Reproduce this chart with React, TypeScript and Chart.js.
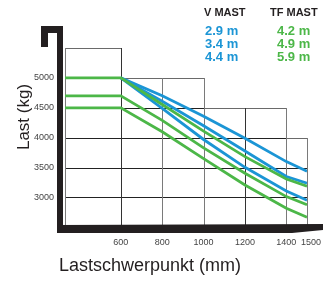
import React, { useEffect, useRef } from 'react';
import { Chart, registerables } from 'chart.js';

Chart.register(...registerables);

// ---- data ----
const loadCentres = [330, 600, 800, 1000, 1200, 1400, 1500];
const vMast29 = [null, 5000, 4700, 4360, 3990, 3600, 3440];
const vMast34 = [null, 5000, 4610, 4200, 3778, 3350, 3240];
const vMast44 = [null, 5000, 4490, 3970, 3505, 3110, 2955];
const tfMast42 = [5000, 5000, 4555, 4110, 3683, 3310, 3190];
const tfMast49 = [4700, 4700, 4290, 3830, 3405, 3015, 2880];
const tfMast59 = [4500, 4500, 4100, 3650, 3210, 2820, 2670];
const xTicks = [600, 800, 1000, 1200, 1400, 1500];
const yTicks = [3000, 3500, 4000, 4500, 5000];
const vMastLabels = ['2.9 m', '3.4 m', '4.4 m'];
const tfMastLabels = ['4.2 m', '4.9 m', '5.9 m'];
const stepEdges = [330, 600, 1000, 1400, 1500];
const stepTops = [5500, 5000, 4500, 4000];
const X_MIN = 330;
const X_MAX = 1500;
const Y_MIN = 2540;
const Y_MAX = 5500;

const BLUE = '#1b95d5';
const GREEN = '#4cb748';
const FONT = "'Liberation Sans', Arial, sans-serif";

const toPts = (vals: (number | null)[]) =>
  vals
    .map((v, i) => (v === null ? null : { x: loadCentres[i], y: v }))
    .filter((p) => p !== null);

const stepGrid = {
  id: 'stepGrid',
  beforeDatasetsDraw(chart: any) {
    const { ctx, scales } = chart;
    const xs = scales.x;
    const ys = scales.y;
    const px = (v: number) => Math.round(xs.getPixelForValue(v)) + 0.5;
    const py = (v: number) => Math.round(ys.getPixelForValue(v)) + 0.5;
    ctx.save();
    ctx.lineWidth = 1;
    const hVals = Array.from(new Set([...yTicks, ...stepTops]));
    hVals.forEach((h) => {
      for (let i = 0; i < stepTops.length; i++) {
        if (stepTops[i] < h) continue;
        ctx.strokeStyle = stepTops[i] === h ? '#6a6a6a' : '#222';
        ctx.beginPath();
        ctx.moveTo(px(stepEdges[i]) - 0.5, py(h));
        ctx.lineTo(px(stepEdges[i + 1]) + 0.5, py(h));
        ctx.stroke();
      }
    });
    const vVals = [X_MIN, ...xTicks];
    vVals.forEach((v) => {
      let top = -Infinity;
      for (let i = 0; i < stepTops.length; i++) {
        if (stepEdges[i] <= v && v <= stepEdges[i + 1]) top = Math.max(top, stepTops[i]);
      }
      ctx.strokeStyle = v === 600 || v === 1200 ? '#333' : '#7a7a7a';
      ctx.beginPath();
      ctx.moveTo(px(v), py(top) - 0.5);
      ctx.lineTo(px(v), ys.getPixelForValue(Y_MIN));
      ctx.stroke();
    });
    ctx.restore();
  },
};

const decor = {
  id: 'decor',
  afterDraw(chart: any) {
    const { ctx, chartArea, scales } = chart;
    const L = chartArea.left;
    const B = chartArea.bottom;
    ctx.save();
    ctx.fillStyle = '#231f20';
    // vertical bar with hook
    ctx.fillRect(L - 8, 26, 6, B + 8 - 26);
    ctx.fillRect(L - 24, 26, 22, 7);
    ctx.fillRect(L - 24, 26, 7, 21);
    // bottom bar with tapered end
    ctx.beginPath();
    ctx.moveTo(L - 8, B);
    ctx.lineTo(323, B - 1);
    ctx.lineTo(323, B + 5);
    ctx.lineTo(292, B + 8);
    ctx.lineTo(L - 8, B + 8);
    ctx.closePath();
    ctx.fill();

    // x tick labels (last one nudged right, as in the original)
    ctx.font = `9px ${FONT}`;
    ctx.fillStyle = '#444';
    ctx.textAlign = 'center';
    ctx.textBaseline = 'middle';
    xTicks.forEach((v, i) => {
      const x = scales.x.getPixelForValue(v) + (i === xTicks.length - 1 ? 4 : 0);
      ctx.fillText(String(v), x, B + 18);
    });

    // axis titles
    ctx.fillStyle = '#231f20';
    ctx.font = `18px ${FONT}`;
    ctx.fillText('Lastschwerpunkt (mm)', 150, 266);
    ctx.save();
    ctx.translate(24, 117);
    ctx.rotate(-Math.PI / 2);
    ctx.font = `17px ${FONT}`;
    ctx.fillText('Last (kg)', 0, 0);
    ctx.restore();

    // legend block
    ctx.font = `bold 11px ${FONT}`;
    ctx.fillStyle = '#231f20';
    ctx.textAlign = 'left';
    ctx.fillText('V MAST', 204, 13);
    ctx.fillText('TF MAST', 270, 13);
    ctx.font = `bold 13px ${FONT}`;
    vMastLabels.forEach((t, i) => {
      ctx.fillStyle = BLUE;
      ctx.fillText(t, 205, 31 + i * 13);
    });
    tfMastLabels.forEach((t, i) => {
      ctx.fillStyle = GREEN;
      ctx.fillText(t, 277, 31 + i * 13);
    });
    ctx.restore();
  },
};

export default function App() {
  const canvasRef = useRef<HTMLCanvasElement | null>(null);

  useEffect(() => {
    if (!canvasRef.current) return;
    const mk = (label: string, vals: (number | null)[], color: string) => ({
      label,
      data: toPts(vals),
      borderColor: color,
      backgroundColor: color,
      borderWidth: 2.8,
      pointRadius: 0,
      tension: 0,
      fill: false,
    });
    const chart = new Chart(canvasRef.current, {
      type: 'line',
      data: {
        datasets: [
          mk('TF MAST 4.2 m', tfMast42, GREEN),
          mk('TF MAST 4.9 m', tfMast49, GREEN),
          mk('TF MAST 5.9 m', tfMast59, GREEN),
          mk('V MAST 2.9 m', vMast29, BLUE),
          mk('V MAST 3.4 m', vMast34, BLUE),
          mk('V MAST 4.4 m', vMast44, BLUE),
        ],
      },
      options: {
        animation: false,
        responsive: true,
        maintainAspectRatio: false,
        layout: { padding: { top: 48, right: 25, left: 0, bottom: 0 } },
        plugins: { legend: { display: false }, tooltip: { enabled: false } },
        scales: {
          x: {
            type: 'linear',
            min: X_MIN,
            max: X_MAX,
            grid: { display: false, drawTicks: false },
            border: { display: false },
            afterBuildTicks: (s: any) => {
              s.ticks = xTicks.map((v) => ({ value: v }));
            },
            afterFit: (s: any) => {
              s.height = 57;
            },
            ticks: { display: false },
          },
          y: {
            type: 'linear',
            min: Y_MIN,
            max: Y_MAX,
            grid: { display: false, drawTicks: false },
            border: { display: false },
            afterBuildTicks: (s: any) => {
              s.ticks = yTicks.map((v) => ({ value: v }));
            },
            afterFit: (s: any) => {
              s.width = 65;
            },
            ticks: {
              padding: 11,
              color: '#444',
              font: { family: FONT, size: 9 },
              callback: (v: any) => String(v),
            },
          },
        },
      },
      plugins: [stepGrid, decor],
    });
    return () => chart.destroy();
  }, []);

  return (
    <div style={{ position: 'fixed', left: 0, top: 0, width: 332, height: 282, background: '#fff' }}>
      <canvas ref={canvasRef} />
    </div>
  );
}
